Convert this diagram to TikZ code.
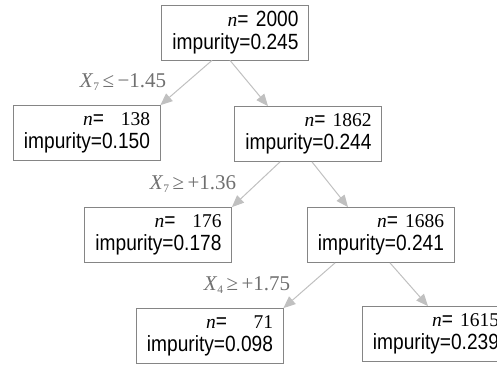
\documentclass[tikz,border=0pt]{standalone}
\usepackage{fontspec}
\setmainfont{Liberation Serif}
\setsansfont{Liberation Sans}
\newfontfamily\helv[FakeStretch=0.87]{Liberation Sans}
\newfontfamily\tms{Liberation Serif}
\usetikzlibrary{arrows.meta}
\definecolor{edgegray}{HTML}{C0C0C0}
\definecolor{boxgray}{HTML}{858585}
\definecolor{labgray}{HTML}{707070}
\newcommand{\nline}[2]{\hspace*{#1}{\fontsize{19.5}{23}\tms\itshape n}{\helv =}\hfill{#2}}
\newcommand{\tnum}[1]{{\fontsize{19.5}{23}\tms #1}}
\newcommand{\subn}[1]{\raisebox{-0.3ex}{\fontsize{11.5}{11.5}\selectfont #1}}
\tikzset{
  treebox/.style={draw=boxgray, line width=0.8pt, fill=white, text width=127pt, align=right,
    minimum width=147pt, minimum height=55pt, inner xsep=10pt, inner ysep=0pt,
    font=\fontsize{22}{23}\selectfont\helv},
  edge/.style={draw=edgegray, line width=1pt, -{Triangle[length=12pt,width=10pt]}},
  lab/.style={text=labgray, font=\fontsize{21}{22}\selectfont\tms, inner sep=0pt}
}
\begin{document}
\begin{tikzpicture}[x=1pt,y=1pt]
\useasboundingbox (0,0) rectangle (497,-364);
\node[treebox] (root) at (235,-32.5) {\nline{56pt}{2000}\\impurity=0.245};
\node[treebox] (l1) at (86.5,-133) {\nline{60pt}{\tnum{138}}\\impurity=0.150};
\node[treebox] (r1) at (308,-134) {\nline{60pt}{\tnum{1862}}\\impurity=0.244};
\node[treebox] (l2) at (158,-235) {\nline{60pt}{\tnum{176}}\\impurity=0.178};
\node[treebox] (r2) at (380.5,-235) {\nline{60pt}{\tnum{1686}}\\impurity=0.241};
\node[treebox] (l3) at (209.5,-336) {\nline{60pt}{\tnum{71}}\\impurity=0.098};
\node[treebox] (r3) at (435.5,-334) {\nline{60pt}{\tnum{1615}}\\impurity=0.239};
\draw[edge] ([xshift=-23pt]root.south) -- (l1.north east);
\draw[edge] ([xshift=-5pt]root.south) -- ([xshift=-40pt]r1.north);
\draw[edge] ([xshift=-28pt]r1.south) -- (l2.north east);
\draw[edge] ([xshift=4pt]r1.south) -- ([xshift=-32.5pt]r2.north);
\draw[edge] ([xshift=-45.5pt]r2.south) -- (l3.north east);
\draw[edge] ([xshift=9.5pt]r2.south) -- ([xshift=-7.5pt]r3.north);
\node[lab] (e1) at (123,-82) {\textit{X}\subn{7}\,≤\,−1.45};
\node[lab] (e2) at (193,-184) {\textit{X}\subn{7}\,≥\,+1.36};
\node[lab] (e3) at (247,-285) {\textit{X}\subn{4}\,≥\,+1.75};
\end{tikzpicture}
\end{document}
